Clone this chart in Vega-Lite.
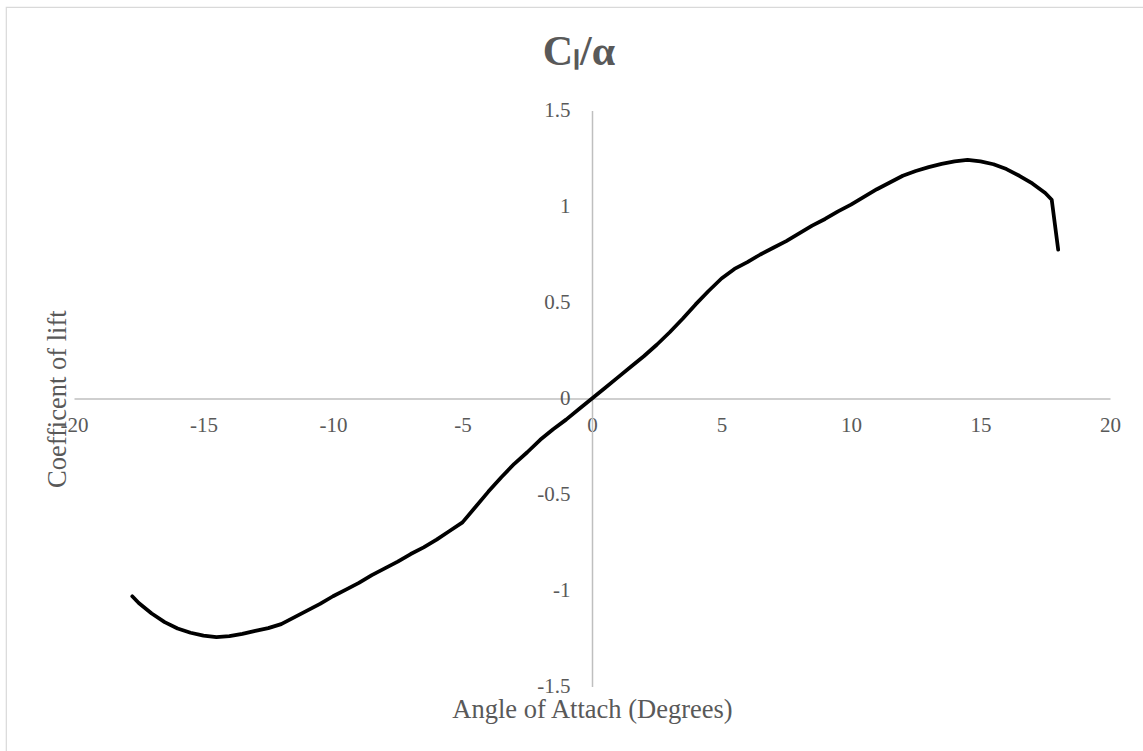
{
  "$schema": "https://vega.github.io/schema/vega-lite/v6.json",
  "autosize": {"type": "none"},
  "width": 1137,
  "height": 744,
  "padding": {"left": 6, "top": 7, "right": 0, "bottom": 0},
  "background": "white",
  "config": {
    "view": {"stroke": "#d9d9d9", "strokeWidth": 1.2, "strokeDash": [1137, 1881, 760]},
    "font": "Liberation Serif"
  },
  "title": {
    "text": "Cₗ/α",
    "font": "Liberation Serif",
    "fontSize": 42,
    "fontWeight": "bold",
    "color": "#595959",
    "anchor": "middle",
    "frame": "group",
    "offset": 0,
    "dx": 4.5,
    "dy": 67
  },
  "data": {
    "values": [
      {"alpha": -17.75, "cl": -1.03},
      {"alpha": -17.5, "cl": -1.065},
      {"alpha": -17.0, "cl": -1.12},
      {"alpha": -16.5, "cl": -1.165},
      {"alpha": -16.0, "cl": -1.198},
      {"alpha": -15.5, "cl": -1.22},
      {"alpha": -15.0, "cl": -1.235},
      {"alpha": -14.5, "cl": -1.243},
      {"alpha": -14.0, "cl": -1.238},
      {"alpha": -13.5, "cl": -1.226},
      {"alpha": -13.0, "cl": -1.21},
      {"alpha": -12.5, "cl": -1.196},
      {"alpha": -12.0, "cl": -1.175},
      {"alpha": -11.5, "cl": -1.14},
      {"alpha": -11.0, "cl": -1.105},
      {"alpha": -10.5, "cl": -1.07},
      {"alpha": -10.0, "cl": -1.03},
      {"alpha": -9.5, "cl": -0.995},
      {"alpha": -9.0, "cl": -0.96},
      {"alpha": -8.5, "cl": -0.92},
      {"alpha": -8.0, "cl": -0.885},
      {"alpha": -7.5, "cl": -0.85},
      {"alpha": -7.0, "cl": -0.81},
      {"alpha": -6.5, "cl": -0.775},
      {"alpha": -6.0, "cl": -0.735},
      {"alpha": -5.5, "cl": -0.69},
      {"alpha": -5.0, "cl": -0.645},
      {"alpha": -4.5, "cl": -0.565},
      {"alpha": -4.0, "cl": -0.485},
      {"alpha": -3.5, "cl": -0.41},
      {"alpha": -3.0, "cl": -0.34},
      {"alpha": -2.5, "cl": -0.28},
      {"alpha": -2.0, "cl": -0.215},
      {"alpha": -1.5, "cl": -0.16},
      {"alpha": -1.0, "cl": -0.11},
      {"alpha": -0.5, "cl": -0.055},
      {"alpha": 0.0, "cl": 0.0},
      {"alpha": 0.5, "cl": 0.055},
      {"alpha": 1.0, "cl": 0.11},
      {"alpha": 1.5, "cl": 0.165},
      {"alpha": 2.0, "cl": 0.22},
      {"alpha": 2.5, "cl": 0.28},
      {"alpha": 3.0, "cl": 0.345},
      {"alpha": 3.5, "cl": 0.415},
      {"alpha": 4.0, "cl": 0.49},
      {"alpha": 4.5, "cl": 0.56},
      {"alpha": 5.0, "cl": 0.625},
      {"alpha": 5.5, "cl": 0.675},
      {"alpha": 6.0, "cl": 0.71},
      {"alpha": 6.5, "cl": 0.75},
      {"alpha": 7.0, "cl": 0.785},
      {"alpha": 7.5, "cl": 0.82},
      {"alpha": 8.0, "cl": 0.86},
      {"alpha": 8.5, "cl": 0.9},
      {"alpha": 9.0, "cl": 0.935},
      {"alpha": 9.5, "cl": 0.975},
      {"alpha": 10.0, "cl": 1.01},
      {"alpha": 10.5, "cl": 1.05},
      {"alpha": 11.0, "cl": 1.09},
      {"alpha": 11.5, "cl": 1.125},
      {"alpha": 12.0, "cl": 1.16},
      {"alpha": 12.5, "cl": 1.185},
      {"alpha": 13.0, "cl": 1.205},
      {"alpha": 13.5, "cl": 1.222},
      {"alpha": 14.0, "cl": 1.235},
      {"alpha": 14.5, "cl": 1.243},
      {"alpha": 15.0, "cl": 1.235},
      {"alpha": 15.5, "cl": 1.22},
      {"alpha": 16.0, "cl": 1.195},
      {"alpha": 16.5, "cl": 1.16},
      {"alpha": 17.0, "cl": 1.12},
      {"alpha": 17.5, "cl": 1.07},
      {"alpha": 17.75, "cl": 1.035},
      {"alpha": 18.0, "cl": 0.775}
    ]
  },
  "mark": {"type": "line", "color": "black", "strokeWidth": 3.75, "strokeCap": "round", "strokeJoin": "round"},
  "encoding": {
    "x": {
      "field": "alpha",
      "type": "quantitative",
      "scale": {"domain": [-20, 20], "range": [68, 1104], "nice": false, "zero": false},
      "axis": {
        "title": "Angle of Attach (Degrees)",
        "orient": "bottom",
        "offset": -352.5,
        "values": [-20, -15, -10, -5, 0, 5, 10, 15, 20],
        "labelExpr": "'' + datum.value",
        "grid": false,
        "ticks": false,
        "tickSize": 0,
        "domainColor": "#bfbfbf",
        "domainWidth": 1.5,
        "labelFont": "Liberation Serif",
        "labelFontSize": 21,
        "labelColor": "#595959",
        "labelPadding": 16,
        "labelFlush": false,
        "labelOverlap": false,
        "titleFont": "Liberation Serif",
        "titleFontSize": 26.5,
        "titleFontWeight": "normal",
        "titleColor": "#595959",
        "titleAlign": "center",
        "titleBaseline": "alphabetic",
        "titleX": 586,
        "titleY": 318.5
      }
    },
    "y": {
      "field": "cl",
      "type": "quantitative",
      "scale": {"domain": [-1.5, 1.5], "range": [679.5, 103.5], "nice": false, "zero": false},
      "axis": {
        "title": "Coefficent of lift",
        "orient": "left",
        "offset": -586,
        "values": [-1.5, -1, -0.5, 0, 0.5, 1, 1.5],
        "labelExpr": "'' + datum.value",
        "grid": false,
        "ticks": false,
        "tickSize": 0,
        "domainColor": "#bfbfbf",
        "domainWidth": 1.5,
        "labelFont": "Liberation Serif",
        "labelFontSize": 21,
        "labelColor": "#595959",
        "labelPadding": 22,
        "labelOverlap": false,
        "labelFlush": false,
        "titleFont": "Liberation Serif",
        "titleFontSize": 26.5,
        "titleFontWeight": "normal",
        "titleColor": "#595959",
        "titleAngle": -90,
        "titleAlign": "center",
        "titleBaseline": "alphabetic",
        "titleX": -527,
        "titleY": 391.7
      }
    }
  }
}
